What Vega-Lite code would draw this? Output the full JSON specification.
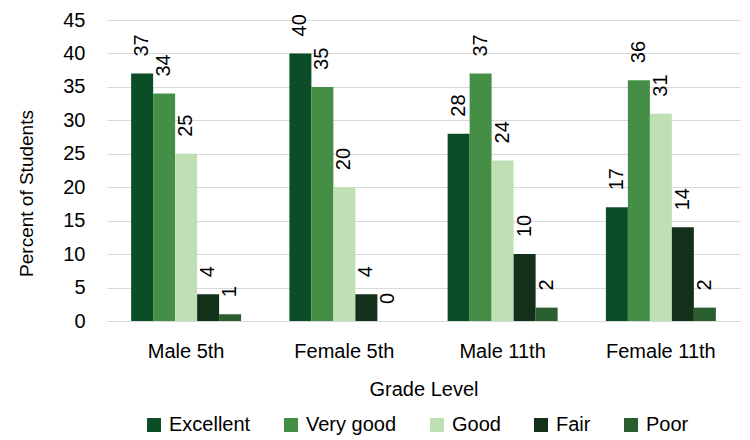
{
  "$schema": "https://vega.github.io/schema/vega-lite/v6.json",
  "width": 633,
  "height": 301,
  "autosize": "none",
  "padding": {"left": 107, "top": 20, "right": 10, "bottom": 119},
  "config": {
    "font": "Liberation Sans",
    "view": {"stroke": null},
    "axis": {"labelFont": "Liberation Sans", "titleFont": "Liberation Sans", "labelColor": "#000", "titleColor": "#000", "titleFontWeight": "normal"}
  },
  "data": {
    "values": [
      {"grade": "Male 5th", "rating": "Excellent", "pct": 37},
      {"grade": "Male 5th", "rating": "Very good", "pct": 34},
      {"grade": "Male 5th", "rating": "Good", "pct": 25},
      {"grade": "Male 5th", "rating": "Fair", "pct": 4},
      {"grade": "Male 5th", "rating": "Poor", "pct": 1},
      {"grade": "Female 5th", "rating": "Excellent", "pct": 40},
      {"grade": "Female 5th", "rating": "Very good", "pct": 35},
      {"grade": "Female 5th", "rating": "Good", "pct": 20},
      {"grade": "Female 5th", "rating": "Fair", "pct": 4},
      {"grade": "Female 5th", "rating": "Poor", "pct": 0},
      {"grade": "Male 11th", "rating": "Excellent", "pct": 28},
      {"grade": "Male 11th", "rating": "Very good", "pct": 37},
      {"grade": "Male 11th", "rating": "Good", "pct": 24},
      {"grade": "Male 11th", "rating": "Fair", "pct": 10},
      {"grade": "Male 11th", "rating": "Poor", "pct": 2},
      {"grade": "Female 11th", "rating": "Excellent", "pct": 17},
      {"grade": "Female 11th", "rating": "Very good", "pct": 36},
      {"grade": "Female 11th", "rating": "Good", "pct": 31},
      {"grade": "Female 11th", "rating": "Fair", "pct": 14},
      {"grade": "Female 11th", "rating": "Poor", "pct": 2}
    ]
  },
  "encoding": {
    "x": {
      "field": "grade", "type": "nominal",
      "sort": ["Male 5th", "Female 5th", "Male 11th", "Female 11th"],
      "scale": {"paddingInner": 0.305, "paddingOuter": 0.1525},
      "axis": {"title": "Grade Level", "labelAngle": 0, "labelFontSize": 20, "titleFontSize": 20, "ticks": false, "domainColor": "#d9d9d9", "labelPadding": 20, "titlePadding": 18}
    },
    "xOffset": {"field": "rating", "type": "nominal", "sort": ["Excellent", "Very good", "Good", "Fair", "Poor"]},
    "y": {
      "field": "pct", "type": "quantitative",
      "scale": {"domain": [0, 45]},
      "axis": {"title": "Percent of Students", "values": [0,5,10,15,20,25,30,35,40,45], "labelFontSize": 20, "titleFontSize": 19, "domain": false, "ticks": false, "gridColor": "#d9d9d9", "labelPadding": 22, "titleX": -75, "titleY": 173, "titleBaseline": "alphabetic", "titleAlign": "center", "titleAngle": -90}
    }
  },
  "layer": [
    {
      "mark": {"type": "bar"},
      "encoding": {
        "color": {
          "field": "rating", "type": "nominal",
          "sort": ["Excellent", "Very good", "Good", "Fair", "Poor"],
          "scale": {"domain": ["Excellent", "Very good", "Good", "Fair", "Poor"], "range": ["#0b4d27", "#448f45", "#bfe0b5", "#13301b", "#2a5e2e"]},
          "legend": {"orient": "none", "legendX": 37, "legendY": 395, "direction": "horizontal", "title": null, "symbolType": "square", "symbolSize": 196, "symbolStrokeWidth": 0, "labelFontSize": 20, "labelFont": "Liberation Sans", "labelColor": "#000", "labelOffset": 5, "columnPadding": 30}
        }
      }
    },
    {
      "mark": {"type": "text", "angle": -90, "align": "left", "baseline": "middle", "dx": 17, "fontSize": 20, "color": "#000"},
      "encoding": {"text": {"field": "pct", "type": "quantitative"}}
    }
  ]
}
